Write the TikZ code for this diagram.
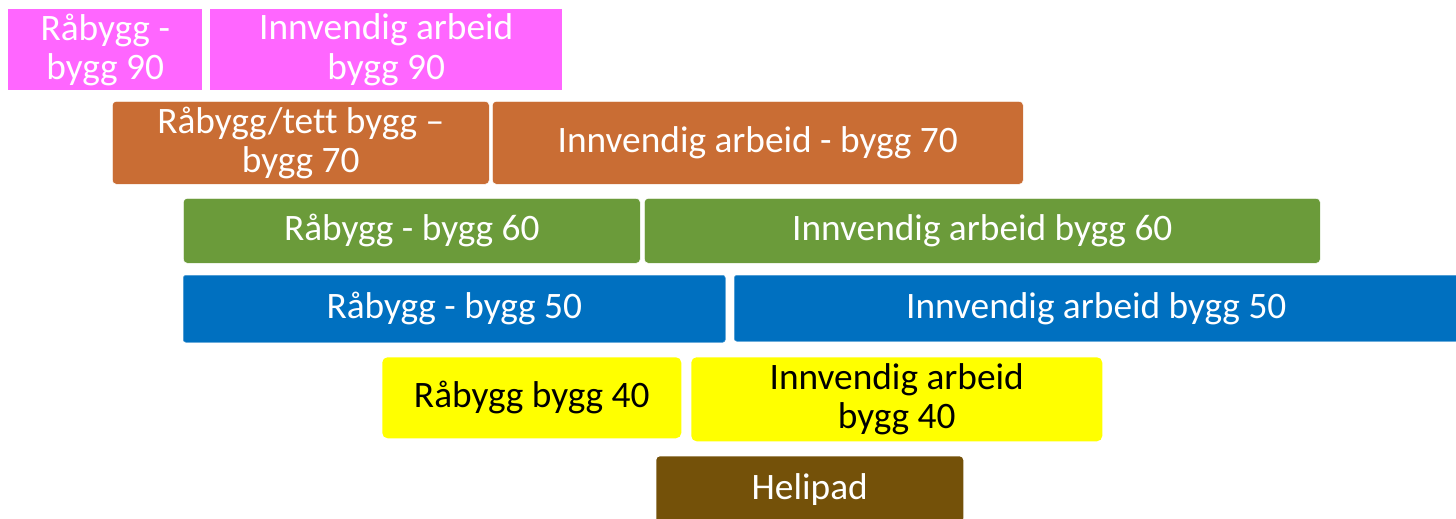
\documentclass[tikz,border=0pt]{standalone}
\usepackage{fontspec}
\setmainfont{Carlito}[Ligatures=NoCommon]
\usetikzlibrary{positioning}
\definecolor{plan-pink}{HTML}{FF66FF}
\definecolor{plan-orange}{HTML}{C96D34}
\definecolor{plan-green}{HTML}{6B9B3A}
\definecolor{plan-blue}{HTML}{0070C0}
\definecolor{plan-yellow}{HTML}{FFFF00}
\definecolor{plan-brown}{HTML}{745109}
\tikzset{
  task/.style 2 args={
    rectangle,
    anchor=north west,
    minimum width={#1*0.75pt},
    minimum height={#2*0.75pt},
    inner sep=0pt,
    align=center,
    text=white,
    font=\fontsize{28}{29.5}\selectfont},
}

\begin{document}
\begin{tikzpicture}[
  x=0.75pt, y=-0.75pt,
  b90/.style={fill=plan-pink},
  b70/.style={fill=plan-orange, draw=white, line width=.4pt, rounded corners=3pt},
  b60/.style={fill=plan-green, draw=white, line width=.4pt, rounded corners=3pt},
  b50/.style={fill=plan-blue, draw=plan-blue!70!white, line width=.4pt, rounded corners=2pt},
  b40/.style={fill=plan-yellow, text=black, rounded corners=4pt},
  heli/.style={fill=plan-brown, rounded corners=3pt}
]
\useasboundingbox (0,0) rectangle (1456,518);

% Bygg 90
\node[task={194}{81}, b90] (raa90) at (8,9) {Råbygg -\\bygg 90};
\node[task={352}{81}, b90] (inn90) at (210,9) {Innvendig arbeid\\bygg 90};

% Bygg 70
\node[task={377}{83}, b70] (raa70) at (112,101) {Råbygg/tett bygg –\\bygg 70};
\node[task={531}{83}, b70] (inn70) at (492,101) {Innvendig arbeid - bygg 70};

% Bygg 60
\node[task={457}{65}, b60] (raa60) at (183,198) {Råbygg - bygg 60};
\node[task={676}{65}, b60] (inn60) at (644,198) {Innvendig arbeid bygg 60};

% Bygg 50
\node[task={542}{67}, b50] (raa50) at (183,275) {Råbygg - bygg 50};
\node[task={724}{66}, b50] (inn50) at (734,275) {Innvendig arbeid bygg 50};

% Bygg 40
\node[task={299}{81}, b40] (raa40) at (382,357) {Råbygg bygg 40};
\node[task={411}{84}, b40] (inn40) at (691,357) {Innvendig arbeid\\bygg 40};

% Helipad
\node[task={307}{66}, heli] (helipad) at (656,456) {Helipad};
\end{tikzpicture}
\end{document}
